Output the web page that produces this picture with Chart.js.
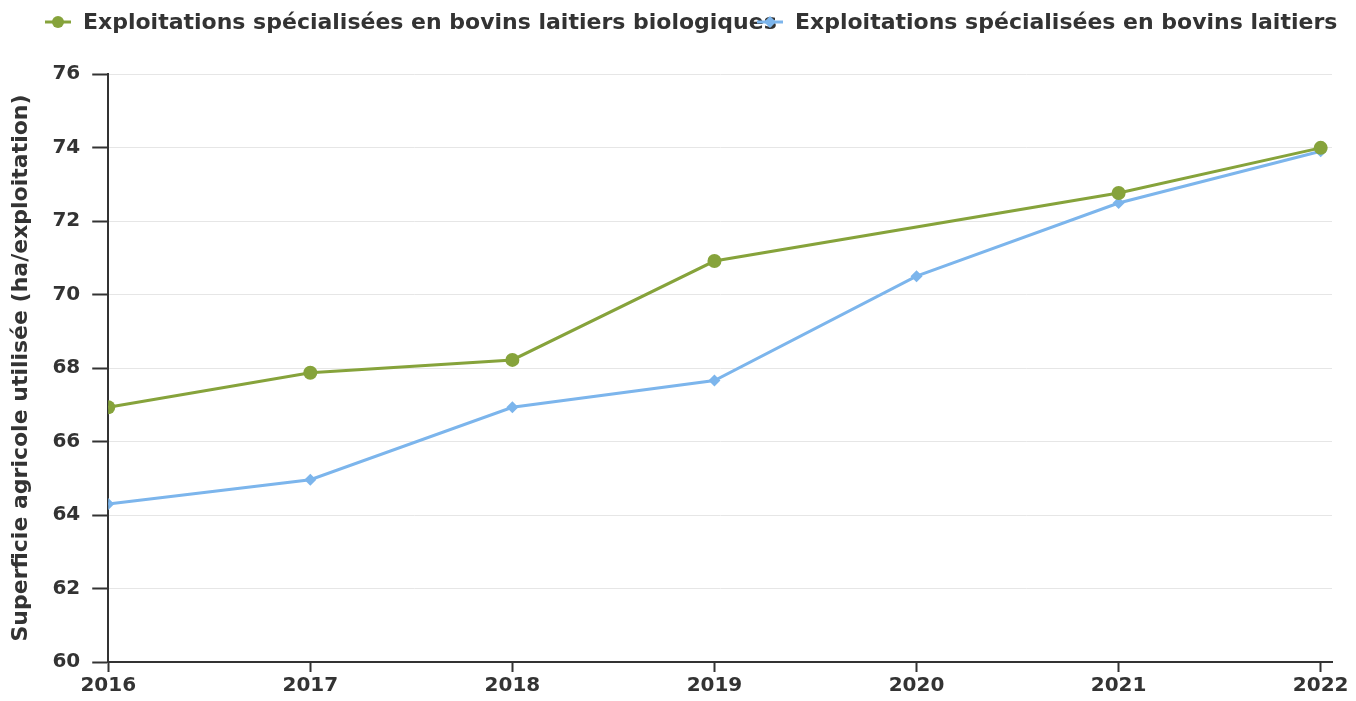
<!DOCTYPE html>
<html lang="fr">
<head>
    <meta charset="UTF-8">
    <title>Superficie agricole utilisée</title>
    <script src="https://cdn.jsdelivr.net/npm/chart.js"></script>
    <style>
        html, body { margin: 0; padding: 0; background: #fff; }
        #wrap { width: 1356px; height: 701px; }
    </style>
</head>
<body>
    <div id="wrap"><canvas id="chart"></canvas></div>
    <script>
        // Data
        const years = [2016, 2017, 2018, 2019, 2020, 2021, 2022];
        const bioValues = [66.93, 67.87, 68.22, 70.91, null, 72.76, 73.99];
        const allValues = [64.3, 64.96, 66.93, 67.66, 70.5, 72.49, 73.9];
        const seriesLabels = [
            'Exploitations spécialisées en bovins laitiers biologiques',
            'Exploitations spécialisées en bovins laitiers'
        ];
        const yTicks = [60, 62, 64, 66, 68, 70, 72, 74, 76];

        const GREEN = '#86a33b';
        const BLUE = '#7cb5ec';
        const TEXT = '#333333';
        const FONT = 'DejaVu Sans';

        Chart.defaults.font.family = FONT;
        Chart.defaults.color = TEXT;

        // Legend drawn by hand: the original items overlap each other
        const topLegend = {
            id: 'topLegend',
            afterDraw(chart) {
                const ctx = chart.ctx;
                const items = [
                    { x: 45, color: GREEN, style: 'circle', r: 6 },
                    { x: 757, color: BLUE, style: 'rectRot', r: 6 }
                ];
                ctx.save();
                ctx.font = 'bold 22px ' + FONT;
                ctx.textBaseline = 'middle';
                items.forEach((it, i) => {
                    const y = 22;
                    ctx.fillStyle = TEXT;
                    ctx.fillText(seriesLabels[i], it.x + 38, y + 1);
                    ctx.strokeStyle = it.color;
                    ctx.lineWidth = 3;
                    ctx.beginPath();
                    ctx.moveTo(it.x, y);
                    ctx.lineTo(it.x + 26, y);
                    ctx.stroke();
                    ctx.fillStyle = it.color;
                    Chart.helpers.drawPoint(ctx, { pointStyle: it.style, radius: it.r, borderWidth: 0 }, it.x + 13, y);
                });
                ctx.restore();
            }
        };

        new Chart(document.getElementById('chart'), {
            type: 'line',
            data: {
                datasets: [{
                    label: seriesLabels[0],
                    data: years.map((yr, i) => ({ x: yr, y: bioValues[i] })),
                    borderColor: GREEN,
                    backgroundColor: GREEN,
                    borderWidth: 3,
                    pointStyle: 'circle',
                    pointRadius: 7,
                    pointBorderWidth: 0,
                    spanGaps: true,
                    fill: false
                }, {
                    label: seriesLabels[1],
                    data: years.map((yr, i) => ({ x: yr, y: allValues[i] })),
                    borderColor: BLUE,
                    backgroundColor: BLUE,
                    borderWidth: 3,
                    pointStyle: 'rectRot',
                    pointRadius: 6,
                    pointBorderWidth: 0,
                    fill: false
                }]
            },
            options: {
                responsive: true,
                maintainAspectRatio: false,
                animation: false,
                layout: { padding: { top: 74, left: 8, right: 24, bottom: 1 } },
                plugins: {
                    legend: { display: false },
                    tooltip: { enabled: false }
                },
                scales: {
                    x: {
                        type: 'linear',
                        min: years[0],
                        max: years[years.length - 1] + 0.056,
                        grid: { drawOnChartArea: false, tickColor: TEXT, tickLength: 10, tickWidth: 2 },
                        border: { color: TEXT, width: 2 },
                        ticks: {
                            stepSize: 1,
                            includeBounds: false,
                            maxRotation: 0,
                            padding: 2,
                            font: { size: 20, weight: 'bold' },
                            color: TEXT,
                            callback: v => String(v)
                        }
                    },
                    y: {
                        min: yTicks[0],
                        max: yTicks[yTicks.length - 1],
                        afterBuildTicks: axis => { axis.ticks = yTicks.map(v => ({ value: v })); },
                        grid: { color: '#e6e6e6', tickColor: TEXT, tickLength: 16, lineWidth: 1, tickWidth: 2 },
                        border: { color: TEXT, width: 2 },
                        ticks: {
                            padding: 12,
                            font: { size: 20, weight: 'bold' },
                            color: TEXT
                        },
                        title: {
                            display: true,
                            text: 'Superficie agricole utilisée (ha/exploitation)',
                            font: { size: 22, weight: 'bold' },
                            color: TEXT,
                            padding: { top: 0, bottom: 6 }
                        }
                    }
                }
            },
            plugins: [topLegend]
        });
    </script>
</body>
</html>
